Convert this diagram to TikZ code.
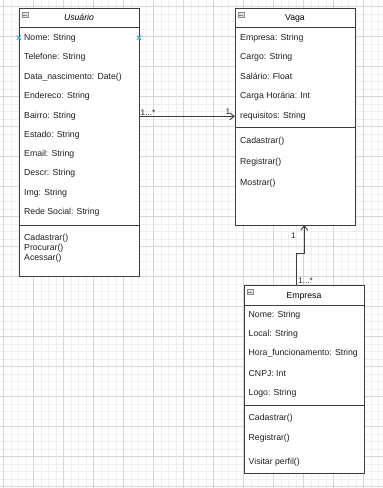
\documentclass[tikz,border=0pt]{standalone}
\usepackage{fontspec}
\setmainfont{Liberation Sans}
\usetikzlibrary{arrows.meta}
\definecolor{gridminor}{HTML}{EFEFEF}
\definecolor{gridmajor}{HTML}{D6D6D6}
\definecolor{umlline}{HTML}{3C3C3C}
\definecolor{handle}{HTML}{29A9E0}
\definecolor{iconfill}{HTML}{E4E4E4}

\begin{document}
\begin{tikzpicture}[x=1pt,y=-1pt,
  font=\fontsize{8.7}{10}\selectfont,
  classbox/.style={draw=umlline, line width=0.9pt, fill=white, anchor=north west,
    inner sep=0pt, outer sep=0pt, minimum width=120pt},
  title/.style={inner sep=0pt, anchor=center},
  attr/.style={inner sep=0pt, anchor=west, text=black!88},
  tinyicon/.style={draw=gray!90, fill=iconfill, line width=0.5pt, inner sep=0pt,
    minimum width=5.5pt, minimum height=5pt},
  mult/.style={inner sep=0pt, font=\fontsize{8.2}{9}\selectfont, text=black!85},
  assoc/.style={draw=umlline, line width=0.9pt, -{Straight Barb[length=4.5pt,width=7pt]}}
]
% page and background grid
\useasboundingbox (0,0) rectangle (383,488);
\fill[white] (0,0) rectangle (383,488);
\foreach \i in {0,...,52} {
  \draw[gridminor, line width=0.5pt] ({-4.2+7.5*\i},0) -- ({-4.2+7.5*\i},488);
}
\foreach \i in {0,...,66} {
  \draw[gridminor, line width=0.5pt] (0,{-0.8+7.5*\i}) -- (383,{-0.8+7.5*\i});
}
\foreach \i in {0,...,12} {
  \draw[gridmajor, line width=0.6pt] ({3.3+30*\i},0) -- ({3.3+30*\i},488);
}
\foreach \i in {0,...,16} {
  \draw[gridmajor, line width=0.6pt] (0,{6.7+30*\i}) -- (383,{6.7+30*\i});
}

% ---------- class Usuario ----------
\node[classbox, minimum height=268pt] (u) at (19,8) {};
\draw[umlline, line width=0.9pt] ([yshift=-19pt]u.north west) -- ([yshift=-19pt]u.north east);
\draw[umlline, line width=0.9pt] ([yshift=-217.5pt]u.north west) -- ([yshift=-217.5pt]u.north east);
\node[tinyicon] (uicon) at (25.3,14.8) {};
\draw[gray, line width=0.6pt] ([xshift=1pt]uicon.west) -- ([xshift=-1pt]uicon.east);
\node[title] (ut) at (79,17.8) {\itshape Usuário};
\node[attr] (u1) at (24,37.8) {Nome: String};
\node[attr] (u2) at (24,57) {Telefone: String};
\node[attr] (u3) at (24,77) {Data\_nascimento: Date()};
\node[attr] (u4) at (24,96.3) {Endereco: String};
\node[attr] (u5) at (24,116.3) {Bairro: String};
\node[attr] (u6) at (24,135.3) {Estado: String};
\node[attr] (u7) at (24,154.5) {Email: String};
\node[attr] (u8) at (24,173.5) {Descr: String};
\node[attr] (u9) at (24,193.3) {Img: String};
\node[attr] (u10) at (24,212.3) {Rede Social: String};
\node[attr] (um1) at (24,238.5) {Cadastrar()};
\node[attr] (um2) at (24,248.3) {Procurar()};
\node[attr] (um3) at (24,258.5) {Acessar()};
% selection handles on the first row
\coordinate (hl) at (19,37.8);
\coordinate (hr) at (139,37.8);
\foreach \h in {hl,hr} {
  \draw[handle, line width=0.8pt] ([shift={(-2.2,-2.2)}]\h) -- ([shift={(2.2,2.2)}]\h);
  \draw[handle, line width=0.8pt] ([shift={(-2.2,2.2)}]\h) -- ([shift={(2.2,-2.2)}]\h);
}

% ---------- class Vaga ----------
\node[classbox, minimum height=217pt] (v) at (235,8) {};
\draw[umlline, line width=0.9pt] ([yshift=-19.5pt]v.north west) -- ([yshift=-19.5pt]v.north east);
\draw[umlline, line width=0.9pt] ([yshift=-119.7pt]v.north west) -- ([yshift=-119.7pt]v.north east);
\node[tinyicon] (vicon) at (241.3,14.8) {};
\draw[gray, line width=0.6pt] ([xshift=1pt]vicon.west) -- ([xshift=-1pt]vicon.east);
\node[title] (vt) at (295,18) {Vaga};
\node[attr] (v1) at (240,37.8) {Empresa: String};
\node[attr] (v2) at (240,57) {Cargo: String};
\node[attr] (v3) at (240,76.8) {Salário: Float};
\node[attr] (v4) at (240,96.2) {Carga Horária: Int};
\node[attr] (v5) at (240,116.3) {requisitos: String};
\node[attr] (vm1) at (240,140.8) {Cadastrar()};
\node[attr] (vm2) at (240,161.8) {Registrar()};
\node[attr] (vm3) at (240,182.8) {Mostrar()};

% ---------- class Empresa ----------
\node[classbox, minimum height=188pt] (e) at (244,285) {};
\draw[umlline, line width=0.9pt] ([yshift=-20pt]e.north west) -- ([yshift=-20pt]e.north east);
\draw[umlline, line width=0.9pt] ([yshift=-120.7pt]e.north west) -- ([yshift=-120.7pt]e.north east);
\node[tinyicon] (eicon) at (250.3,291.8) {};
\draw[gray, line width=0.6pt] ([xshift=1pt]eicon.west) -- ([xshift=-1pt]eicon.east);
\node[title] (et) at (304,296) {Empresa};
\node[attr] (e1) at (248.5,315.2) {Nome: String};
\node[attr] (e2) at (248.5,334.5) {Local: String};
\node[attr] (e3) at (248.5,353.5) {Hora\_funcionamento: String};
\node[attr] (e4) at (248.5,373.3) {CNPJ: Int};
\node[attr] (e5) at (248.5,392.8) {Logo: String};
\node[attr] (em1) at (248.5,418.5) {Cadastrar()};
\node[attr] (em2) at (248.5,437.8) {Registrar()};
\node[attr] (em3) at (248.5,461.8) {Visitar perfil()};

% ---------- associations ----------
\draw[assoc] (u.east |- u5) -- (v.west |- u5);
\node[mult] (ml1) at (148,112.2) {1...*};
\node[mult] (mr1) at (228,112) {1};

\draw[assoc] ([xshift=-7.3pt]e.north) -- ++(0,-31.7) -| ([xshift=9.3pt]v.south);
\node[mult] (ml2) at (293.5,235.3) {1};
\node[mult] (mr2) at (305.5,281) {1...*};
\end{tikzpicture}
\end{document}
